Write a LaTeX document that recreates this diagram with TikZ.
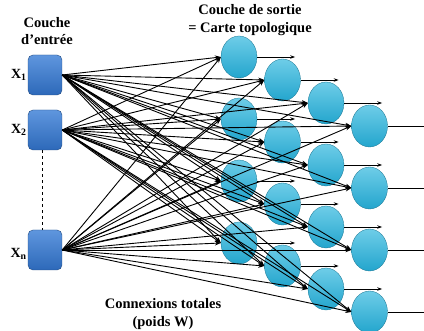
\documentclass[tikz,border=0pt]{standalone}
\usepackage{fontspec}
\setmainfont{Liberation Serif}
\usetikzlibrary{shapes.geometric,arrows.meta}

\definecolor{carre}{RGB}{45,105,185}
\definecolor{carreclair}{RGB}{95,150,222}
\definecolor{neur}{RGB}{35,165,205}
\definecolor{neurclair}{RGB}{110,205,232}

\tikzset{
  entree/.style={draw=carre!70!black, rounded corners=5pt, minimum width=34pt,
    minimum height=40pt, inner sep=0pt, top color=carreclair, bottom color=carre},
  neurone/.style={ellipse, draw=neur!70!black, line width=0.3pt, minimum width=36pt,
    minimum height=42pt, inner sep=0pt, top color=neurclair, bottom color=neur},
  lien/.style={-{Stealth[length=6pt,width=4.5pt]}, line width=0.9pt},
  sortie/.style={-{Stealth[length=5pt,width=3.5pt]}, line width=0.8pt},
  titre/.style={font=\fontsize{14.5}{17.5}\selectfont\bfseries, align=center},
  etiq/.style={font=\fontsize{14}{16}\selectfont\bfseries, inner sep=1pt}
}

\begin{document}
\begin{tikzpicture}[x=1pt,y=-1pt]
\useasboundingbox (0,0) rectangle (424,331);

% titres
\node[titre] (tin) at (47,31) {Couche\\d'entr\'ee};
\node[titre] (tout) at (250,20) {Couche de sortie\\= Carte topologique};
\node[titre] (tw) at (163,314) {Connexions totales\\(poids W)};

% couche d'entree
\node[entree] (x1) at (45,75) {};
\node[entree] (x2) at (45,130) {};
\node[entree] (xn) at (45,250) {};
\node[etiq, left] (l1) at (x1.west) {X\textsubscript{1}};
\node[etiq, left] (l2) at (x2.west) {X\textsubscript{2}};
\node[etiq, left] (ln) at ([yshift=-4pt]xn.west) {X\textsubscript{n}};
\draw[dashed, line width=0.9pt] ([xshift=-3pt]x2.south) -- ([xshift=-3pt]xn.north);

% carte topologique
\foreach \c in {0,...,3}
  \foreach \r in {0,...,3}
    \node[neurone] (n\c\r) at ({239+43.5*\c},{57+23*\c+62*\r}) {};

% connexions totales
\foreach \e in {x1,x2,xn}
  \foreach \c in {0,...,3}
    \foreach \r in {0,...,3}
      \draw[lien] (\e.east) -- (n\c\r.west);

% sorties
\foreach \c in {0,1,2}
  \foreach \r in {0,...,3} {
    \coordinate (s\c\r) at ([xshift=38pt]n\c\r.east);
    \draw[sortie] (n\c\r.east) -- (s\c\r);
  }
\foreach \r in {0,...,3} {
  \coordinate (s3\r) at (n3\r.east -| 424,0);
  \draw[line width=0.8pt] (n3\r.east) -- (s3\r);
}
\end{tikzpicture}
\end{document}
